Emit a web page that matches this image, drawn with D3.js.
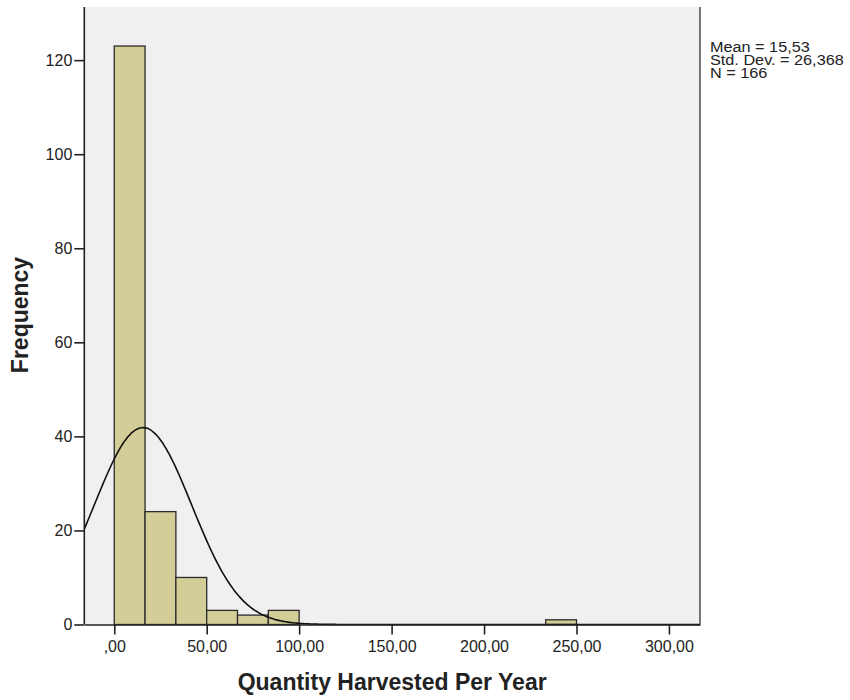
<!DOCTYPE html>
<html>
<head>
<meta charset="utf-8">
<script src="https://cdn.jsdelivr.net/npm/d3@7"></script>
<style>
  body { margin: 0; background: #fff; }
  text { font-family: "Liberation Sans", Arial, sans-serif; fill: #222; }
</style>
</head>
<body>
<svg id="hist" width="850" height="700"></svg>
<script>
var binWidth = 50 / 3;
var binStarts = [0, 1, 2, 3, 4, 5, 14];     // bin index (start = index * binWidth)
var binCounts = [123, 24, 10, 3, 2, 3, 1];
var xTicks = [0, 50, 100, 150, 200, 250, 300];
var yTicks = [0, 20, 40, 60, 80, 100, 120];
var mean = 15.53, stdDev = 26.368, nTotal = 166;
var statLines = ["Mean = 15,53", "Std. Dev. = 26,368", "N = 166"];

var svg = d3.select("#hist");
var plotLeft = 84.3, plotRight = 700, plotTop = 7, plotBottom = 624.5;

var xScale = d3.scaleLinear()
  .domain([-16.2, 316.8])
  .range([plotLeft, plotRight]);

var yScale = d3.scaleLinear()
  .domain([0, 131.3])
  .range([plotBottom, plotTop]);

// plot background
svg.append("rect")
  .attr("x", plotLeft)
  .attr("y", plotTop)
  .attr("width", plotRight - plotLeft)
  .attr("height", plotBottom - plotTop)
  .attr("fill", "#f0f0f0");

// bars
var bins = binStarts.map(function(b, i){
  return {x0: b * binWidth, x1: (b + 1) * binWidth, count: binCounts[i]};
});

svg.append("g")
  .selectAll("rect")
  .data(bins)
  .enter()
  .append("rect")
    .attr("x", function(d){ return xScale(d.x0); })
    .attr("y", function(d){ return yScale(d.count); })
    .attr("width", function(d){ return xScale(d.x1) - xScale(d.x0); })
    .attr("height", function(d){ return yScale(0) - yScale(d.count); })
    .attr("fill", "#d3ce98")
    .attr("stroke", "#2a2a2a")
    .attr("stroke-width", 1.3);

// normal curve from the stated mean / std dev
var curveXs = d3.range(-16.2, 316.9, 1);
var normal = d3.line()
  .x(function(d){ return xScale(d); })
  .y(function(d){
    var z = (d - mean) / stdDev;
    var f = nTotal * binWidth / (stdDev * Math.sqrt(2 * Math.PI)) * Math.exp(-0.5 * z * z);
    return yScale(f);
  })
  .curve(d3.curveMonotoneX);

svg.append("path")
  .datum(curveXs)
  .attr("d", normal)
  .attr("fill", "none")
  .attr("stroke", "#111")
  .attr("stroke-width", 1.6);

// right border
svg.append("line")
  .attr("x1", plotRight).attr("x2", plotRight)
  .attr("y1", plotTop).attr("y2", plotBottom)
  .attr("stroke", "#555")
  .attr("stroke-width", 1.6);

// axes
var yAxis = d3.axisLeft(yScale)
  .tickValues(yTicks)
  .tickSize(10)
  .tickSizeOuter(0)
  .tickPadding(2);

var fmt = d3.formatLocale({decimal: ",", thousands: ".", grouping: [3], currency: ["", ""]});
var xFormat = function(d){
  var s = fmt.format(".2f")(d);
  return d === 0 ? s.replace(/^0/, "") : s;
};

var xAxis = d3.axisBottom(xScale)
  .tickValues(xTicks)
  .tickFormat(xFormat)
  .tickSize(10)
  .tickSizeOuter(0)
  .tickPadding(6);

var gy = svg.append("g")
  .attr("transform", "translate(" + plotLeft + ",0)")
  .call(yAxis);

var gx = svg.append("g")
  .attr("transform", "translate(0," + plotBottom + ")")
  .call(xAxis);

[gx, gy].forEach(function(g){
  g.select(".domain").attr("stroke", "#222").attr("stroke-width", 1.6);
  g.selectAll(".tick line").attr("stroke", "#222").attr("stroke-width", 1.6);
  g.selectAll(".tick text")
    .attr("font-size", 16)
    .attr("font-family", "Liberation Sans, Arial, sans-serif")
    .attr("fill", "#222");
});

gy.select(".domain").attr("d", "M0," + plotTop + "V" + plotBottom);

// axis titles
svg.append("text")
  .attr("x", (plotLeft + plotRight) / 2)
  .attr("y", 690)
  .attr("text-anchor", "middle")
  .attr("font-size", 23)
  .attr("font-weight", "bold")
  .text("Quantity Harvested Per Year");

svg.append("text")
  .attr("x", 0)
  .attr("y", 0)
  .attr("text-anchor", "middle")
  .attr("font-size", 23)
  .attr("font-weight", "bold")
  .attr("transform", "translate(28,315)rotate(-90)")
  .text("Frequency");

// stats legend (slightly widened, like the reference's hinted font)
svg.append("g")
  .attr("transform", "translate(710,0)scale(1.16,1)")
  .selectAll("text")
  .data(statLines)
  .enter()
  .append("text")
    .attr("x", 0)
    .attr("y", function(d, i){ return 52.3 + i * 13.1; })
    .attr("font-size", 14)
    .text(function(d){ return d; });
</script>
</body>
</html>
